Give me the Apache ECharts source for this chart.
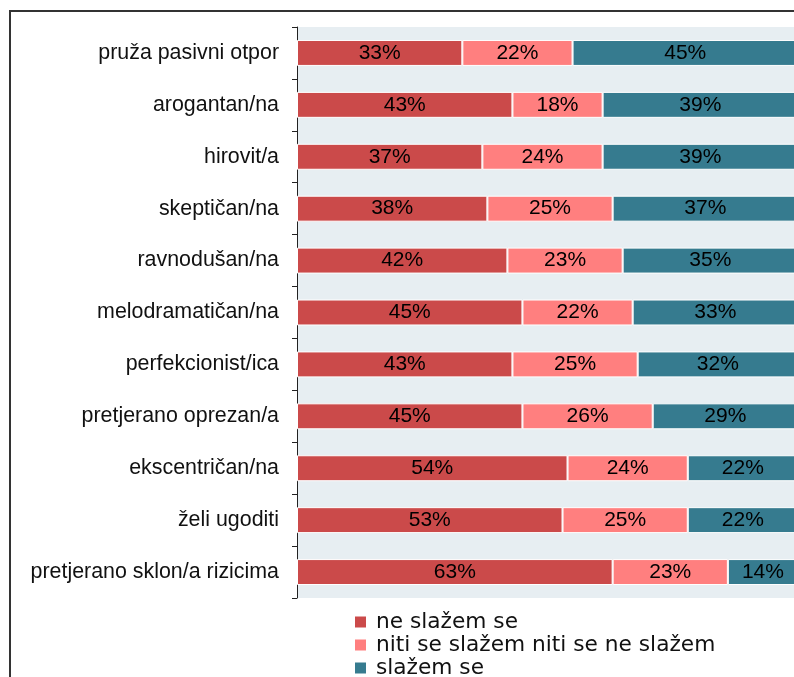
<!DOCTYPE html>
<html>
<head>
<meta charset="utf-8">
<script src="https://cdn.jsdelivr.net/npm/echarts@6/dist/echarts.min.js"></script>
<style>
  html, body { margin: 0; padding: 0; background: #fff; }
  #chart { width: 794px; height: 677px; }
</style>
</head>
<body>
<div id="chart"></div>
<script>
// categories top to bottom
const categories = [
  'pruža pasivni otpor', 'arogantan/na', 'hirovit/a', 'skeptičan/na',
  'ravnodušan/na', 'melodramatičan/na', 'perfekcionist/ica',
  'pretjerano oprezan/a', 'ekscentričan/na', 'želi ugoditi',
  'pretjerano sklon/a rizicima'
];
const seriesNames = ['ne slažem se', 'niti se slažem niti se ne slažem', 'slažem se'];
const disagree = [33, 43, 37, 38, 42, 45, 43, 45, 54, 53, 63];
const neutral  = [22, 18, 24, 25, 23, 22, 25, 26, 24, 25, 23];
const agree    = [45, 39, 39, 37, 35, 33, 32, 29, 22, 22, 14];

const colors = ['#CB4A4A', '#FF7F7F', '#367B8F'];
const font = 'Arial, "Liberation Sans", sans-serif';

const chart = echarts.init(document.getElementById('chart'), null, { renderer: 'canvas' });

const mkSeries = (name, data, i) => ({
  name: name,
  type: 'bar',
  stack: 'all',
  barWidth: '50%',
  data: data,
  itemStyle: { color: colors[i], borderColor: '#fff', borderWidth: 1 },
  label: {
    show: true,
    position: 'inside',
    formatter: '{c}%',
    color: '#000',
    fontSize: 21,
    fontFamily: font
  }
});

// one legend per row so they stack without wrapping
const legendTops = [611, 634, 657];
const legends = seriesNames.map((n, i) => ({
  orient: 'vertical',
  left: 353,
  top: legendTops[i],
  padding: 0,
  itemWidth: 13,
  itemHeight: 13,
  itemGap: 0,
  icon: 'rect',
  data: [n],
  textStyle: {
    fontSize: 21.7, fontFamily: '"DejaVu Sans", sans-serif', color: '#111',
    padding: [0, 0, 0, 4]
  }
}));

chart.setOption({
  animation: false,
  grid: {
    left: 297, top: 27, width: 501, height: 571,
    outerBoundsMode: 'none',
    backgroundColor: '#E7EEF2', show: true, borderWidth: 0
  },
  xAxis: {
    type: 'value', min: 0, max: 100, show: false
  },
  yAxis: {
    type: 'category',
    inverse: true,
    data: categories,
    axisLine: { show: true, lineStyle: { color: '#222', width: 1 } },
    axisTick: { show: true, length: 5, lineStyle: { color: '#222' } },
    axisLabel: { color: '#111', fontSize: 21.4, fontFamily: font, margin: 18 },
    splitLine: { show: false }
  },
  legend: legends,
  graphic: [{
    type: 'rect',
    shape: { x: 10, y: 11, width: 820, height: 700 },
    style: { fill: null, stroke: '#333', lineWidth: 2 },
    silent: true
  }],
  series: [
    mkSeries(seriesNames[0], disagree, 0),
    mkSeries(seriesNames[1], neutral, 1),
    mkSeries(seriesNames[2], agree, 2)
  ]
});
</script>
</body>
</html>
